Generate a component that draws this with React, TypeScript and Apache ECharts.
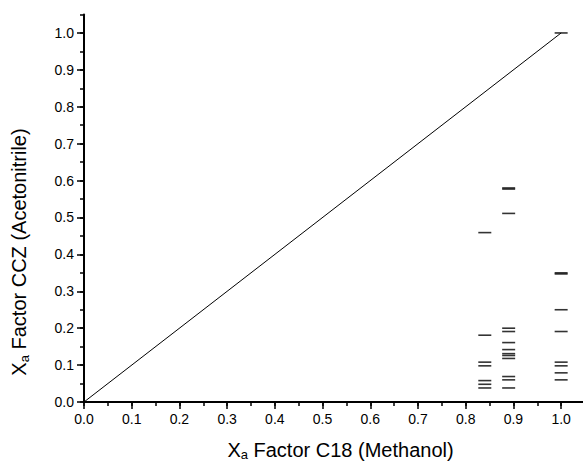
import React, { useEffect, useRef } from "react";
import * as echarts from "echarts";

// Data
const colA_x = 0.84;
const colA_y = [0.459, 0.181, 0.108, 0.098, 0.058, 0.048, 0.038];
const colB_x = 0.89;
const colB_y = [0.58, 0.577, 0.511, 0.2, 0.191, 0.161, 0.142, 0.131, 0.126, 0.118, 0.069, 0.06, 0.038];
const colC_x = 1.0;
const colC_y = [1.0, 0.35, 0.347, 0.25, 0.191, 0.108, 0.098, 0.079, 0.06];
const diagonal = [
  [0, 0],
  [1, 1],
];
const majorTicks = [0, 0.1, 0.2, 0.3, 0.4, 0.5, 0.6, 0.7, 0.8, 0.9, 1.0];

const FONT = "'Liberation Sans', Arial, Helvetica, sans-serif";

export default function App() {
  const ref = useRef<HTMLDivElement>(null);
  useEffect(() => {
    if (!ref.current) return;
    const chart = echarts.init(ref.current, undefined, { renderer: "svg" });
    const gridRect = {
      left: 84,
      top: 14.5,
      width: 501,
      bottom: 59,
      containLabel: false,
      outerBoundsMode: "none",
    };
    const fmt = (v: number) => {
      const k = Math.round(v * 20);
      return k % 2 === 0 ? (k / 20).toFixed(1) : "";
    };
    const points = [
      ...colA_y.map((y) => [colA_x, y]),
      ...colB_y.map((y) => [colB_x, y]),
      ...colC_y.map((y) => [colC_x, y]),
    ];
    chart.setOption({
      animation: false,
      backgroundColor: "#fff",
      grid: [{ ...gridRect }, { ...gridRect }],
      xAxis: [
        {
          type: "value",
          gridIndex: 0,
          min: 0,
          max: 1.05,
          interval: 0.05,
          splitLine: { show: false },
          axisLine: { show: true, lineStyle: { color: "#000", width: 2 } },
          axisTick: { show: true, length: 4, lineStyle: { color: "#000", width: 1.5 } },
          axisLabel: {
            formatter: fmt,
            color: "#000",
            fontSize: 14,
            fontFamily: FONT,
            margin: 10,
          },
          name: "{x|X}{s|a}{x| Factor C18 (Methanol)}",
          nameLocation: "middle",
          nameGap: 36,
          nameTextStyle: {
            padding: [0, 0, 0, 12],
            rich: {
              x: { fontSize: 20, fontFamily: FONT, color: "#000" },
              s: { fontSize: 13, fontFamily: FONT, color: "#000", padding: [10, 0, 0, 0] },
            },
          },
        },
        {
          type: "value",
          gridIndex: 1,
          min: 0,
          max: 1.05,
          interval: 0.05,
          splitLine: { show: false },
          axisLine: { show: false },
          axisLabel: { show: false },
          axisTick: {
            show: true,
            length: 7,
            customValues: majorTicks,
            lineStyle: { color: "#000", width: 1.5 },
          },
        },
      ],
      yAxis: [
        {
          type: "value",
          gridIndex: 0,
          min: 0,
          max: 1.05,
          interval: 0.05,
          splitLine: { show: false },
          axisLine: { show: true, lineStyle: { color: "#000", width: 2 } },
          axisTick: { show: true, length: 4, lineStyle: { color: "#000", width: 1.5 } },
          axisLabel: {
            formatter: fmt,
            color: "#000",
            fontSize: 14,
            fontFamily: FONT,
            margin: 10,
          },
        },
        {
          type: "value",
          gridIndex: 1,
          min: 0,
          max: 1.05,
          interval: 0.05,
          splitLine: { show: false },
          axisLine: { show: false },
          axisLabel: { show: false },
          axisTick: {
            show: true,
            length: 7,
            customValues: majorTicks,
            lineStyle: { color: "#000", width: 1.5 },
          },
        },
      ],
      graphic: [
        {
          type: "text",
          x: 19,
          y: 252,
          rotation: Math.PI / 2,
          style: {
            text: "{x|X}{s|a}{x| Factor CCZ (Acetonitrile)}",
            align: "center",
            verticalAlign: "middle",
            rich: {
              x: { fontSize: 20, fontFamily: FONT, fill: "#000", color: "#000" },
              s: { fontSize: 13, fontFamily: FONT, fill: "#000", color: "#000", padding: [10, 0, 0, 0] },
            },
          },
        },
      ],
      series: [
        {
          type: "line",
          xAxisIndex: 0,
          yAxisIndex: 0,
          data: diagonal,
          showSymbol: false,
          symbol: "none",
          lineStyle: { color: "#000", width: 1 },
          silent: true,
        },
        {
          type: "scatter",
          xAxisIndex: 0,
          yAxisIndex: 0,
          data: points,
          symbol: "rect",
          symbolSize: [13, 1.6],
          itemStyle: { color: "#000" },
        },
      ],
    });
    return () => chart.dispose();
  }, []);
  return (
    <div
      ref={ref}
      style={{ position: "fixed", left: 0, top: 0, width: 583, height: 461 }}
    />
  );
}
